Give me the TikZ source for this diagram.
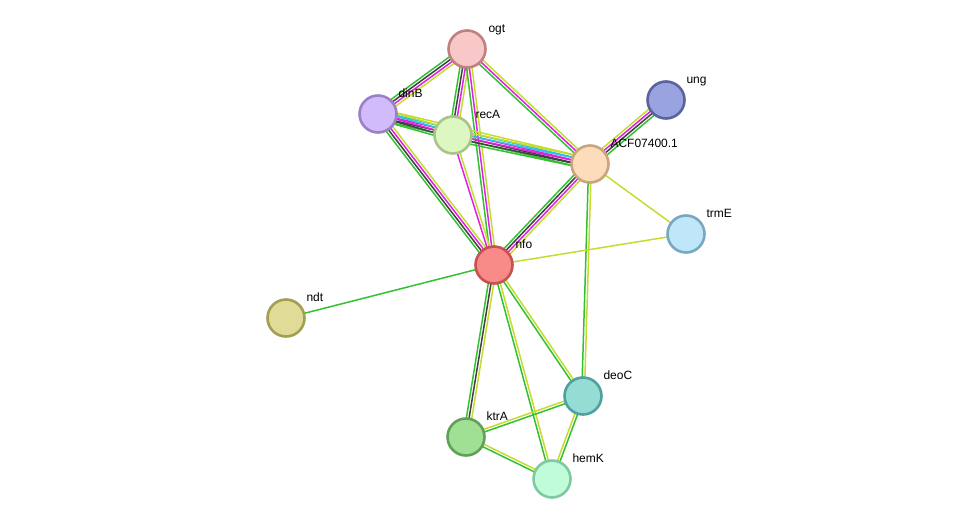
\documentclass[tikz,border=0pt]{standalone}
\usepackage{fontspec}
\setmainfont{Liberation Sans}
\usetikzlibrary{calc}
\definecolor{cg}{HTML}{33C033}
\definecolor{ck}{HTML}{404040}
\definecolor{cm}{HTML}{E020E0}
\definecolor{cy}{HTML}{C4DC30}
\definecolor{cc}{HTML}{30C0E0}
\newcommand\myedge[4]{%
  \foreach \c [count=\i] in {#4}{%
    \pgfmathsetmacro\off{(\i-(#3+1)/2)*2.7}
    \draw[line width=1.5pt,color=\c] ($(#1)!\off pt!90:(#2)$) -- ($(#2)!\off pt!-90:(#1)$);
  }}
\begin{document}
\begin{tikzpicture}[x=1pt,y=-1pt,
  prot/.style={circle,minimum size=37pt,inner sep=0pt,line width=2.6pt},
  lab/.style={font=\fontsize{12}{13}\selectfont,anchor=base west}]
\useasboundingbox (0,0) rectangle (976,525);
\coordinate (ogt) at (467,49);
\coordinate (dinB) at (378,114);
\coordinate (recA) at (453,135);
\coordinate (ACF) at (590,164);
\coordinate (ung) at (666,100);
\coordinate (trmE) at (686,234);
\coordinate (nfo) at (494,265);
\coordinate (ndt) at (286,318);
\coordinate (deoC) at (583,396);
\coordinate (ktrA) at (466,437);
\coordinate (hemK) at (552,479);
\myedge{ogt}{dinB}{4}{cg,ck,cm,cy}
\myedge{ogt}{recA}{4}{cg,ck,cm,cy}
\myedge{ogt}{nfo}{3}{cg,cm,cy}
\myedge{ogt}{ACF}{3}{cg,cm,cy}
\myedge{dinB}{ACF}{5}{cg,ck,cm,cc,cy}
\myedge{dinB}{recA}{5}{cg,ck,cm,cc,cy}
\myedge{recA}{ACF}{5}{cg,ck,cm,cc,cy}
\myedge{dinB}{nfo}{4}{cg,ck,cm,cy}
\myedge{recA}{nfo}{2}{cm,cy}
\myedge{ACF}{nfo}{4}{cg,ck,cm,cy}
\myedge{ACF}{ung}{4}{cg,ck,cm,cy}
\myedge{ACF}{trmE}{1}{cy}
\myedge{ACF}{deoC}{2}{cg,cy}
\myedge{nfo}{trmE}{1}{cy}
\myedge{nfo}{ndt}{1}{cg}
\myedge{nfo}{ktrA}{3}{cg,ck,cy}
\myedge{nfo}{hemK}{2}{cg,cy}
\myedge{nfo}{deoC}{2}{cg,cy}
\myedge{ktrA}{deoC}{2}{cg,cy}
\myedge{ktrA}{hemK}{2}{cg,cy}
\myedge{deoC}{hemK}{2}{cy,cg}
\node[prot,fill={rgb,255:red,248;green,200;blue,200},draw={rgb,255:red,192;green,128;blue,128}] (n-ogt) at (ogt) {};
\node[prot,fill={rgb,255:red,210;green,187;blue,251},draw={rgb,255:red,154;green,128;blue,200}] (n-dinB) at (dinB) {};
\node[prot,fill={rgb,255:red,220;green,248;blue,192},draw={rgb,255:red,168;green,196;blue,136}] (n-recA) at (recA) {};
\node[prot,fill={rgb,255:red,253;green,220;blue,188},draw={rgb,255:red,200;green,164;blue,128}] (n-ACF) at (ACF) {};
\node[prot,fill={rgb,255:red,152;green,163;blue,224},draw={rgb,255:red,90;green,99;blue,160}] (n-ung) at (ung) {};
\node[prot,fill={rgb,255:red,192;green,230;blue,250},draw={rgb,255:red,120;green,168;blue,192}] (n-trmE) at (trmE) {};
\node[prot,fill={rgb,255:red,248;green,138;blue,136},draw={rgb,255:red,200;green,80;blue,80}] (n-nfo) at (nfo) {};
\node[prot,fill={rgb,255:red,224;green,220;blue,152},draw={rgb,255:red,160;green,160;blue,80}] (n-ndt) at (ndt) {};
\node[prot,fill={rgb,255:red,148;green,220;blue,212},draw={rgb,255:red,80;green,160;blue,160}] (n-deoC) at (deoC) {};
\node[prot,fill={rgb,255:red,160;green,224;blue,148},draw={rgb,255:red,96;green,160;blue,88}] (n-ktrA) at (ktrA) {};
\node[prot,fill={rgb,255:red,192;green,252;blue,216},draw={rgb,255:red,128;green,200;blue,160}] (n-hemK) at (hemK) {};
\node[lab] (l-ogt) at (485,32) {ogt};
\node[lab] (l-dinB) at (395,97) {dinB};
\node[lab] (l-recA) at (472,118) {recA};
\node[lab] (l-ACF) at (607,147) {ACF07400.1};
\node[lab] (l-ung) at (683,83) {ung};
\node[lab] (l-trmE) at (703,217) {trmE};
\node[lab] (l-nfo) at (512,248) {nfo};
\node[lab] (l-ndt) at (303,301) {ndt};
\node[lab] (l-deoC) at (600,379) {deoC};
\node[lab] (l-ktrA) at (483,420) {ktrA};
\node[lab] (l-hemK) at (569,462) {hemK};
\end{tikzpicture}
\end{document}
